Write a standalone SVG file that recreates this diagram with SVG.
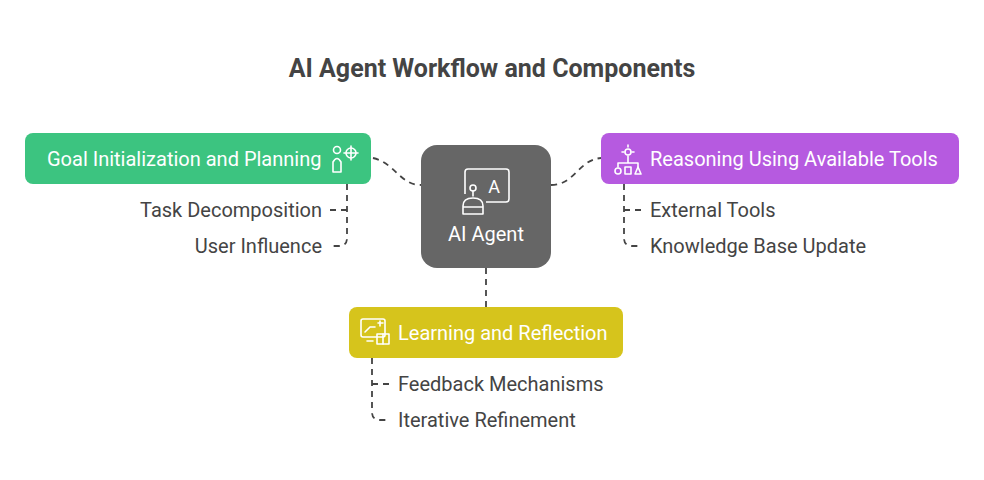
<svg xmlns="http://www.w3.org/2000/svg" width="984" height="480" viewBox="0 0 984 480">
<style>
text{font-family:Roboto,"Liberation Sans",sans-serif}
.t{font-size:25px;font-weight:bold;fill:#444}
.h{font-size:20px;fill:#fff}
.s{font-size:20px;fill:#444}
.c{fill:none;stroke:#444;stroke-width:1.8;stroke-dasharray:6 5}
.i{fill:none;stroke:#fff;stroke-width:1.6;stroke-linecap:round;stroke-linejoin:round}
</style>
<rect width="984" height="480" fill="#fff"/>
<text class="t" x="492" y="77" text-anchor="middle">AI Agent Workflow and Components</text>
<g id="connectors">
<path class="c" d="M373 158 C395 163 400 185 421 185"/>
<path class="c" d="M551 185 C575 185 578 160 601 158"/>
<path class="c" d="M486 268 V307"/>
<path class="c" d="M347 184 V238 Q347 246 339 246 H330 M347 210 H330"/>
<path class="c" d="M624 184 V238 Q624 246 632 246 H641 M624 210 H641"/>
<path class="c" d="M372 358 V412 Q372 420 380 420 H389 M372 384 H389"/>
</g>
<g id="agent">
<rect x="421" y="145" width="130" height="123" rx="16" fill="#666"/>
<rect class="i" x="465" y="169" width="44" height="33" rx="3"/>
<text x="494" y="193" font-size="18" fill="#fff" text-anchor="middle">A</text>
<rect x="460" y="194" width="26" height="22" fill="#666"/>
<circle class="i" cx="473" cy="188" r="3"/>
<path class="i" d="M473 191 V196 M463 214 V206 Q463 198 473 198 Q483 198 483 206 V214 Z M463 207 H483"/>
<text class="h" x="486" y="241" text-anchor="middle">AI Agent</text>
</g>
<g id="goal">
<rect x="25" y="133" width="346" height="51" rx="8" fill="#3cc480"/>
<text class="h" x="47" y="166">Goal Initialization and Planning</text>
<circle class="i" cx="337" cy="150" r="3.5"/>
<path class="i" d="M333 172 V162 Q337 155 341 162 V172 Z"/>
<circle class="i" cx="351" cy="153" r="5"/>
<path class="i" d="M351 146 V160 M344 153 H358"/>
</g>
<g id="reason">
<rect x="601" y="133" width="358" height="51" rx="8" fill="#b65ae0"/>
<text class="h" x="650" y="166">Reasoning Using Available Tools</text>
<circle class="i" cx="628" cy="152" r="3"/>
<path class="i" d="M628 145 V147 M622 152 H624 M632 152 H634 M628 156 V163 M618 167 V163 H638 V167"/>
<circle class="i" cx="618" cy="171" r="3"/>
<rect class="i" x="625" y="167" width="6" height="7"/>
<path class="i" d="M635 174 L638 167 L641 174 Z"/>
</g>
<g id="learn">
<rect x="349" y="307" width="274" height="51" rx="8" fill="#d6c41c"/>
<text class="h" x="398" y="340">Learning and Reflection</text>
<rect class="i" x="361" y="319" width="24" height="18" rx="2"/>
<path class="i" d="M365 332 L370 327 H375 M378 323 H383 M380 321 V326 M367 341 H373"/>
<rect class="i" x="377" y="334" width="12" height="10" fill="#d6c41c"/>
<path class="i" d="M383 334 V344"/>
</g>
<g id="goal-items">
<text class="s" x="322" y="217" text-anchor="end">Task Decomposition</text>
<text class="s" x="322" y="253" text-anchor="end">User Influence</text>
</g>
<g id="reason-items">
<text class="s" x="650" y="217">External Tools</text>
<text class="s" x="650" y="253">Knowledge Base Update</text>
</g>
<g id="learn-items">
<text class="s" x="398" y="391">Feedback Mechanisms</text>
<text class="s" x="398" y="427">Iterative Refinement</text>
</g>
</svg>
